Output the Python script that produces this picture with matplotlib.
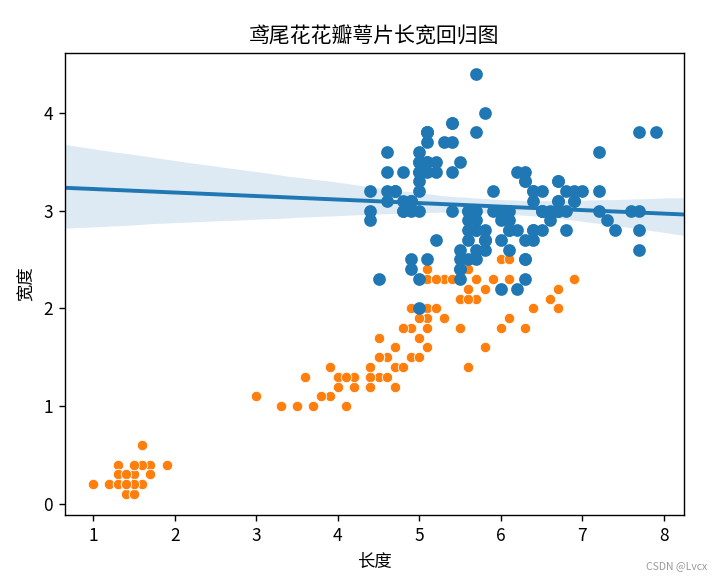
import matplotlib
matplotlib.use('Agg')
import matplotlib.pyplot as plt
import seaborn as sns

plt.rcParams['font.family'] = ['Noto Sans CJK SC', 'DejaVu Sans']
plt.rcParams['axes.unicode_minus'] = False

# sepal (blue, with regression)
sepal_length = [5.1, 4.9, 4.7, 4.6, 5.0, 5.4, 4.6, 5.0, 4.4, 4.9, 5.4, 4.8, 4.8, 5.8, 5.7,
                5.4, 5.1, 5.7, 5.1, 5.1, 4.6, 5.0, 5.0, 5.2, 5.2, 4.7, 4.8, 5.4, 4.9, 5.0,
                5.5, 4.9, 4.4, 5.1, 5.0, 4.5, 4.4, 5.0, 5.1, 4.8, 5.1, 4.6, 5.3, 5.0,
                7.0, 6.4, 6.9, 5.5, 6.5, 5.7, 6.3, 4.9, 6.6, 5.2, 5.0, 6.1, 5.6, 6.7, 5.6,
                5.8, 6.2, 5.6, 5.9, 6.1, 6.3, 6.1, 6.6, 6.8, 6.7, 6.0, 5.7, 5.5, 5.5, 6.0,
                5.4, 6.3, 5.6, 5.5, 5.5, 5.8, 5.0, 5.6, 5.7, 5.7, 5.1, 5.7,
                6.3, 5.8, 6.5, 7.6, 4.9, 7.3, 7.2, 6.5, 6.4, 6.8, 5.7, 5.8, 6.4, 6.5, 7.7,
                7.7, 6.0, 6.9, 5.6, 7.7, 6.3, 6.7, 7.2, 6.2, 6.1, 6.4, 7.2, 7.4, 7.9, 6.4,
                6.1, 7.7, 6.3, 6.4, 6.0, 6.7, 6.9, 5.8, 6.8, 6.7, 6.7, 6.3, 6.5, 6.2, 5.9]
sepal_width = [3.5, 3.0, 3.2, 3.1, 3.6, 3.9, 3.4, 3.4, 2.9, 3.1, 3.7, 3.4, 3.0, 4.0, 4.4,
               3.9, 3.5, 3.8, 3.8, 3.7, 3.6, 3.0, 3.4, 3.5, 3.4, 3.2, 3.1, 3.4, 3.1, 3.2,
               3.5, 3.1, 3.0, 3.4, 3.5, 2.3, 3.2, 3.5, 3.8, 3.0, 3.8, 3.2, 3.7, 3.3,
               3.2, 3.2, 3.1, 2.3, 2.8, 2.8, 3.3, 2.4, 2.9, 2.7, 2.0, 2.9, 2.9, 3.1, 3.0,
               2.7, 2.2, 2.5, 3.2, 2.8, 2.5, 2.8, 3.0, 2.8, 3.0, 2.9, 2.6, 2.4, 2.4, 2.7,
               3.0, 2.3, 3.0, 2.5, 2.6, 2.6, 2.3, 2.7, 3.0, 2.9, 2.5, 2.8,
               3.3, 2.7, 3.0, 3.0, 2.5, 2.9, 3.6, 3.2, 2.7, 3.0, 2.5, 2.8, 3.2, 3.0, 3.8,
               2.6, 2.2, 3.2, 2.8, 2.8, 2.7, 3.3, 3.2, 2.8, 3.0, 2.8, 3.0, 2.8, 3.8, 2.8,
               2.6, 3.0, 3.4, 3.1, 3.0, 3.1, 3.1, 2.7, 3.2, 3.3, 3.0, 2.5, 3.0, 3.4, 3.0]

# petal (orange)
petal_length = [1.4, 1.4, 1.3, 1.5, 1.4, 1.7, 1.4, 1.5, 1.4, 1.5, 1.5, 1.6, 1.4, 1.2, 1.5,
                1.3, 1.4, 1.7, 1.5, 1.5, 1.0, 1.6, 1.6, 1.5, 1.4, 1.6, 1.6, 1.5, 1.5, 1.2,
                1.3, 1.5, 1.3, 1.5, 1.3, 1.3, 1.3, 1.6, 1.9, 1.4, 1.6, 1.4, 1.5, 1.4,
                4.7, 4.5, 4.9, 4.0, 4.6, 4.5, 4.7, 3.3, 4.6, 3.9, 3.5, 4.7, 3.6, 4.4, 4.5,
                4.1, 4.5, 3.9, 4.8, 4.0, 4.9, 4.7, 4.4, 4.8, 5.0, 4.5, 3.5, 3.8, 3.7, 5.1,
                4.5, 4.4, 4.1, 4.0, 4.4, 4.0, 3.3, 4.2, 4.2, 4.2, 3.0, 4.1,
                6.0, 5.1, 5.8, 6.6, 4.5, 6.3, 6.1, 5.1, 5.3, 5.5, 5.0, 5.1, 5.3, 5.5, 6.7,
                6.9, 5.0, 5.7, 4.9, 6.7, 4.9, 5.7, 6.0, 4.8, 4.9, 5.6, 5.8, 6.1, 6.4, 5.6,
                5.6, 6.1, 5.6, 5.5, 4.8, 5.6, 5.1, 5.1, 5.9, 5.7, 5.2, 5.0, 5.2, 5.4, 5.1]
petal_width = [0.2, 0.2, 0.2, 0.2, 0.2, 0.4, 0.3, 0.2, 0.2, 0.1, 0.2, 0.2, 0.1, 0.2, 0.4,
               0.4, 0.3, 0.3, 0.3, 0.4, 0.2, 0.2, 0.4, 0.2, 0.2, 0.2, 0.2, 0.4, 0.1, 0.2,
               0.2, 0.1, 0.2, 0.2, 0.3, 0.3, 0.2, 0.6, 0.4, 0.3, 0.2, 0.2, 0.2, 0.2,
               1.4, 1.5, 1.5, 1.3, 1.5, 1.3, 1.6, 1.0, 1.3, 1.4, 1.0, 1.4, 1.3, 1.4, 1.5,
               1.0, 1.5, 1.1, 1.8, 1.3, 1.5, 1.2, 1.4, 1.4, 1.7, 1.5, 1.0, 1.1, 1.0, 1.6,
               1.5, 1.3, 1.3, 1.3, 1.2, 1.2, 1.0, 1.3, 1.2, 1.3, 1.1, 1.3,
               2.5, 1.9, 2.2, 2.1, 1.7, 1.8, 2.5, 2.0, 1.9, 2.1, 2.0, 2.4, 2.3, 1.8, 2.2,
               2.3, 1.5, 2.3, 2.0, 2.0, 1.8, 2.1, 1.8, 1.8, 1.8, 2.1, 1.6, 1.9, 2.0, 2.2,
               1.4, 2.3, 2.4, 1.8, 1.8, 2.4, 2.3, 1.9, 2.3, 2.5, 2.3, 1.9, 2.0, 2.3, 1.8]

fig = plt.figure(figsize=(718 / 125, 580 / 125), dpi=125)
ax = fig.add_axes([0.0905, 0.112, 0.862, 0.797])

sns.scatterplot(x=petal_length, y=petal_width, color='C1', ax=ax)
sns.regplot(x=sepal_length, y=sepal_width, color='C0', truncate=False, seed=0,
            scatter_kws={'s': 40, 'alpha': 1}, ax=ax)

ax.set_title('鸢尾花花瓣萼片长宽回归图')
ax.set_xlabel('长度')
ax.set_ylabel('宽度')

fig.text(0.985, 0.015, 'CSDN @Lvcx', ha='right', va='bottom', fontsize=6, color='#999999')

plt.savefig('out.png', dpi=125)
